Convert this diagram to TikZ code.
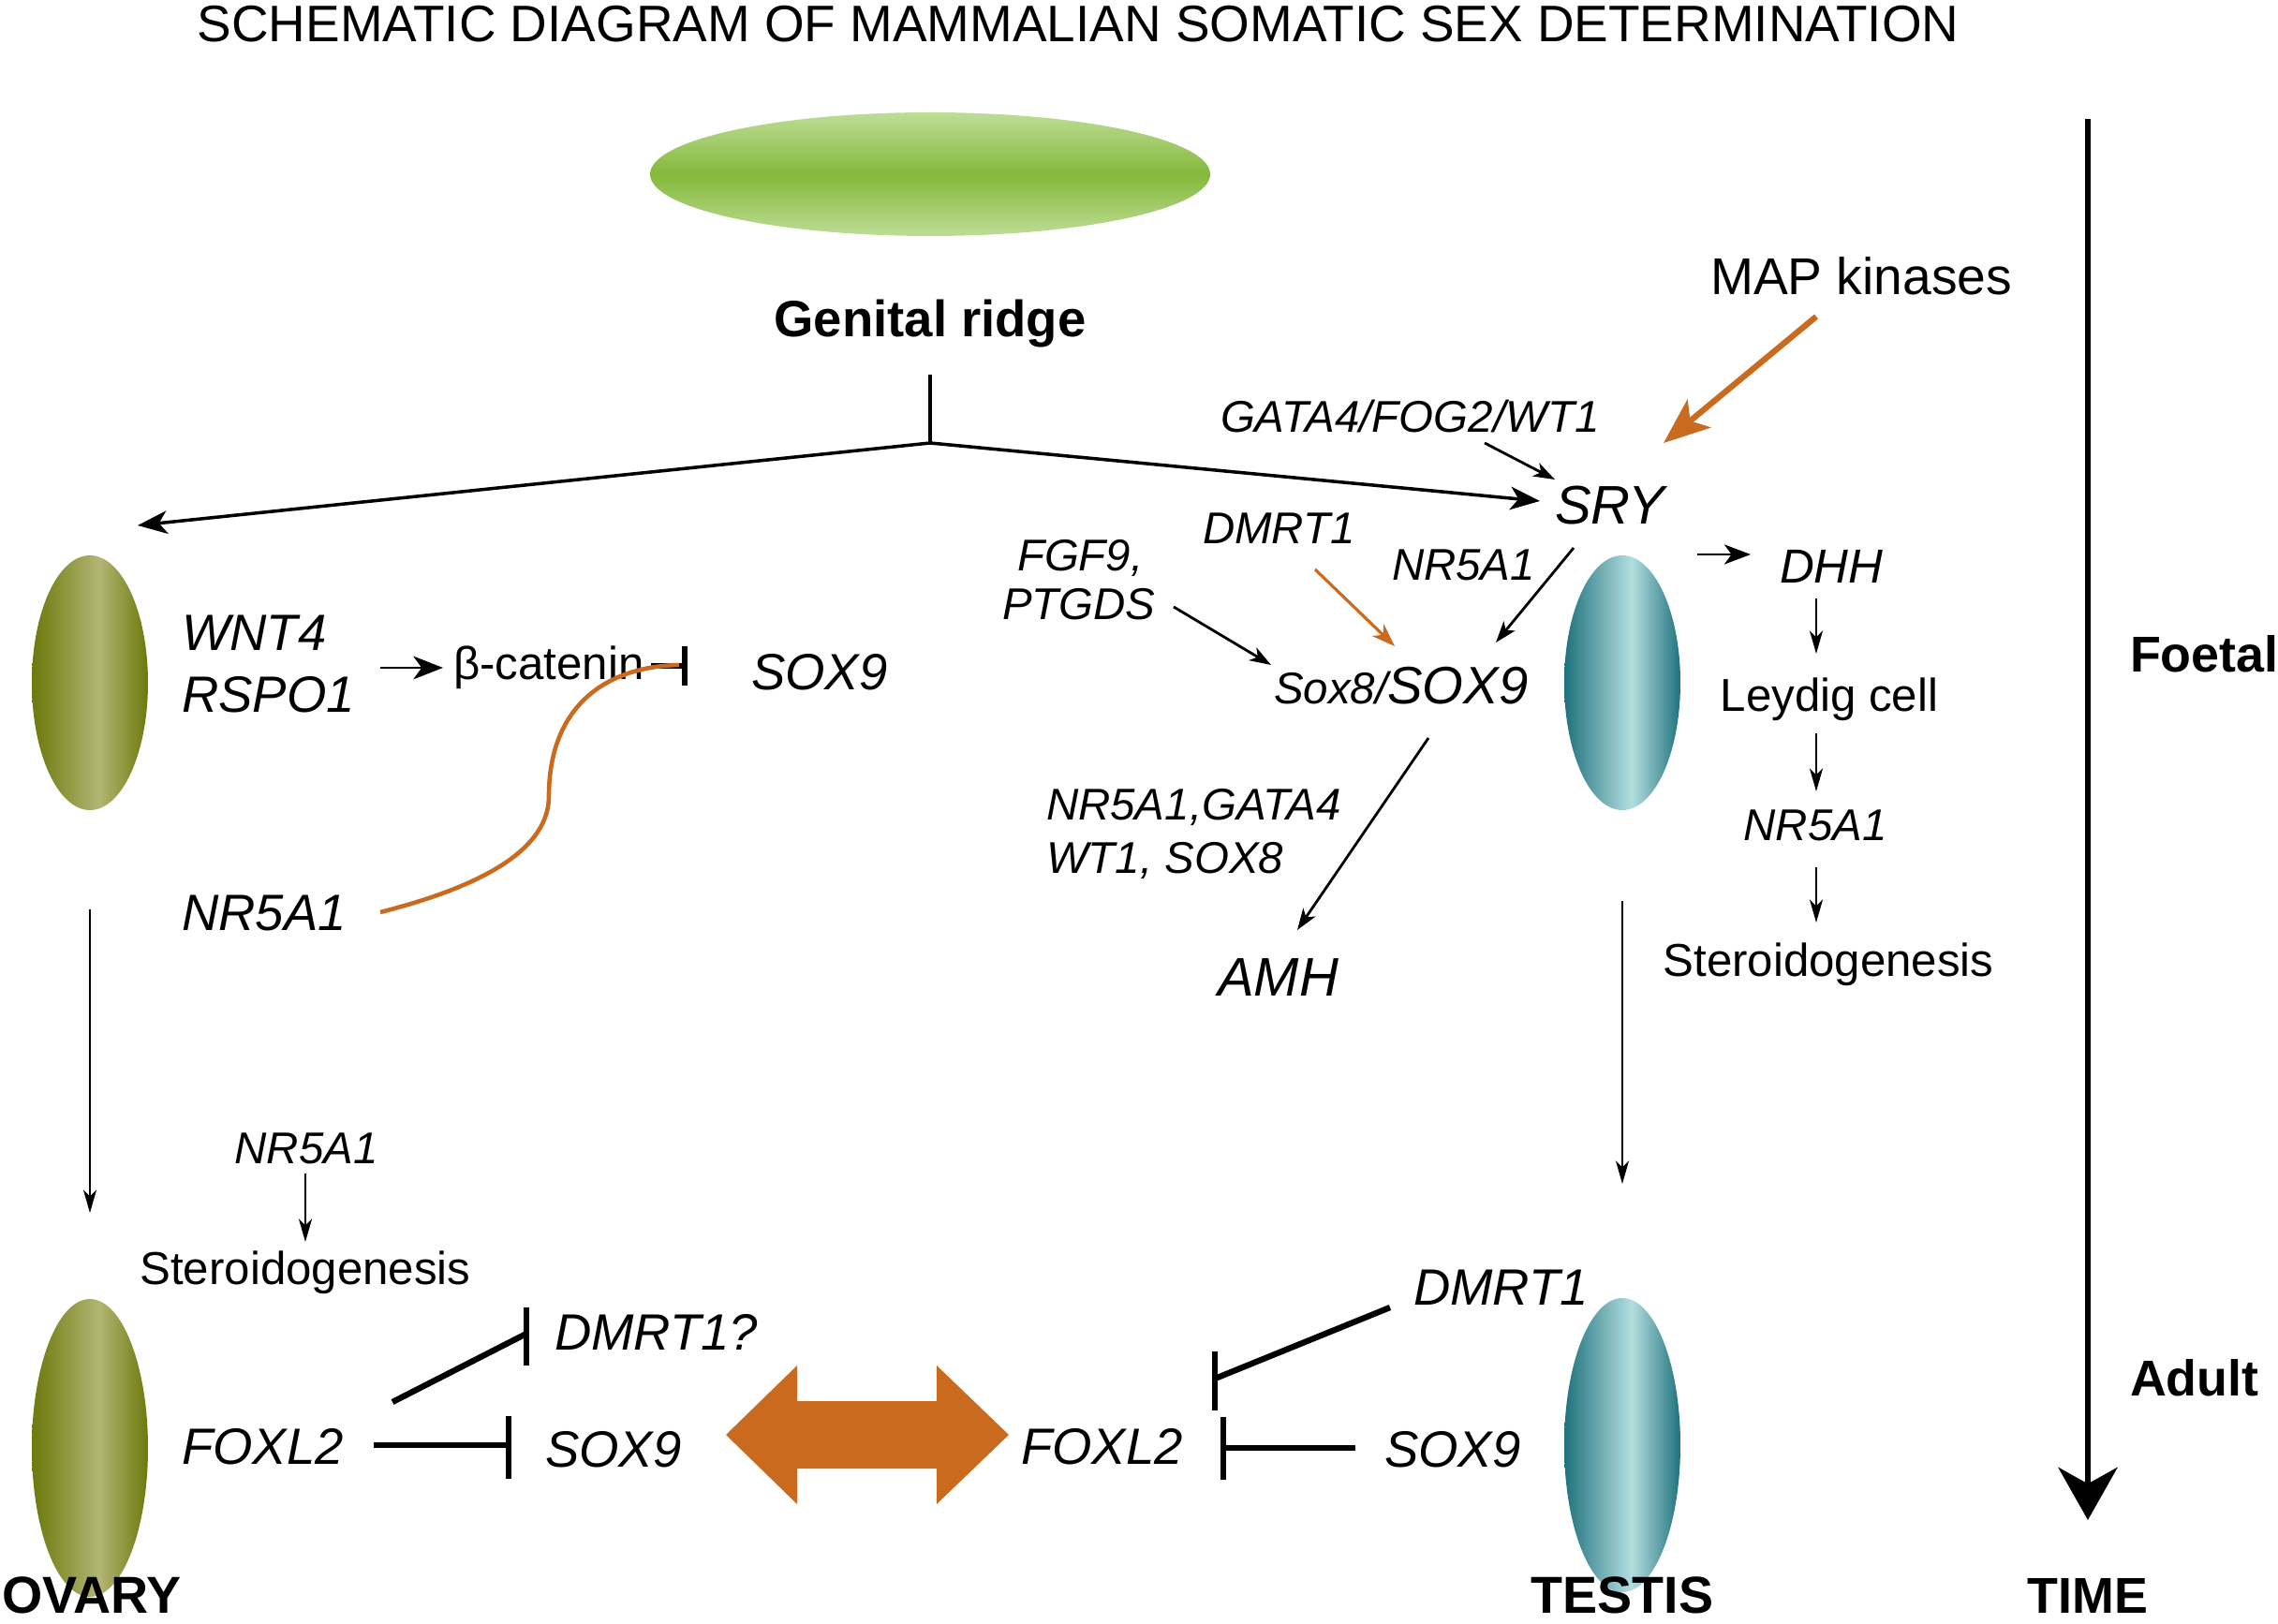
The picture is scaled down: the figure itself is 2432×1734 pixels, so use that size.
\documentclass[tikz,border=0pt]{standalone}
\usepackage{fontspec}
\setmainfont{Liberation Sans}
\usetikzlibrary{arrows.meta}
\definecolor{orng}{HTML}{C96A1E}
\definecolor{grnD}{HTML}{84B83A}
\definecolor{grnL}{HTML}{BEDD96}
\definecolor{oliveD}{HTML}{6B790C}
\definecolor{oliveL}{HTML}{B3B573}
\definecolor{tealD}{HTML}{1F727D}
\definecolor{tealL}{HTML}{B3DEE0}
\begin{document}
\begin{tikzpicture}[x=0.01cm,y=-0.01cm,
  every node/.style={inner sep=0pt, outer sep=0pt},
  reg/.style={font=\fontsize{14}{16}\selectfont},
  gene/.style={font=\fontsize{15.5}{18}\selectfont\itshape},
  sgene/.style={font=\fontsize{13.5}{16}\selectfont\itshape},
  lab/.style={font=\fontsize{15.8}{18}\selectfont\bfseries},
  act/.style={line width=0.8pt, -{Stealth[length=6.5pt,width=4.5pt,inset=1.8pt]}},
  actdown/.style={line width=0.8pt, -{Stealth[length=7pt,width=4pt,inset=2pt]}},
  actbig/.style={line width=1pt, -{Stealth[length=9pt,width=7pt,inset=2.5pt]}},
  inhline/.style={line width=1.8pt},
  inhbar/.style={line width=1.6pt},
]
\useasboundingbox (0,0) rectangle (2432,1734);

% title
\node[font=\fontsize{15.6}{18}\selectfont] (title) at (1151,26) {SCHEMATIC DIAGRAM OF MAMMALIAN SOMATIC SEX DETERMINATION};

% genital ridge ellipse
\begin{scope}
\clip (993,186) ellipse [x radius=299, y radius=66];
\shade[top color=grnL, bottom color=grnL, middle color=grnD] (694,120) rectangle (1292,252);
\end{scope}
\node[font=\fontsize{15.5}{18}\selectfont\bfseries, anchor=base] (gr) at (993,360) {Genital ridge};

% ovary ellipses
\begin{scope}
\clip (96,729) ellipse [x radius=62, y radius=136];
\shade[left color=oliveD, right color=oliveL] (34,593) rectangle (106,865);
\shade[left color=oliveL, right color=oliveD] (106,593) rectangle (158,865);
\end{scope}
\begin{scope}
\clip (96,1546) ellipse [x radius=62, y radius=159];
\shade[left color=oliveD, right color=oliveL] (34,1387) rectangle (106,1705);
\shade[left color=oliveL, right color=oliveD] (106,1387) rectangle (158,1705);
\end{scope}
% testis ellipses
\begin{scope}
\clip (1732,729) ellipse [x radius=62, y radius=136];
\shade[left color=tealD, right color=tealL] (1670,593) rectangle (1742,865);
\shade[left color=tealL, right color=tealD] (1742,593) rectangle (1794,865);
\end{scope}
\begin{scope}
\clip (1732,1543) ellipse [x radius=62, y radius=157];
\shade[left color=tealD, right color=tealL] (1670,1386) rectangle (1742,1700);
\shade[left color=tealL, right color=tealD] (1742,1386) rectangle (1794,1700);
\end{scope}

% labels bottom
\node[lab, anchor=base] (ovary) at (98,1722) {OVARY};
\node[lab, anchor=base] (testis) at (1732,1722) {TESTIS};
\node[font=\fontsize{15.3}{18}\selectfont\bfseries, anchor=base] (time) at (2229,1722) {TIME};
\node[font=\fontsize{15.3}{18}\selectfont\bfseries, anchor=base west] (foetal) at (2274,718) {Foetal};
\node[font=\fontsize{15.3}{18}\selectfont\bfseries, anchor=base west] (adult) at (2274,1490) {Adult};

% left foetal texts
\node[gene, anchor=base west] (wnt) at (194,695) {WNT4};
\node[gene, anchor=base west] (rspo) at (194,761) {RSPO1};
\node[reg, anchor=base west] (bcat) at (484,726) {β-catenin};
\node[gene, anchor=base west] (sox9a) at (802,737) {SOX9};
\node[gene, anchor=base west] (nr5l) at (194,994) {NR5A1};
\node[sgene, anchor=base] (nr5lb) at (327,1242) {NR5A1};
\node[reg, anchor=base] (sterl) at (326,1371) {Steroidogenesis};

% left adult texts
\node[gene, anchor=base west] (dmrtq) at (592,1441) {DMRT1?};
\node[gene, anchor=base west] (foxl) at (194,1563) {FOXL2};
\node[gene, anchor=base west] (sox9b) at (582,1566) {SOX9};
% right adult texts
\node[gene, anchor=base west] (foxr) at (1090,1563) {FOXL2};
\node[gene, anchor=base west] (dmrtr) at (1509,1393) {DMRT1};
\node[gene, anchor=base west] (sox9c) at (1478,1566) {SOX9};

% right foetal texts
\node[font=\fontsize{15.7}{18}\selectfont, anchor=base west] (map) at (1826,315) {MAP kinases};
\node[sgene, anchor=base west] (gata) at (1303,462) {GATA4/FOG2/WT1};
\node[font=\fontsize{16.5}{20}\selectfont\itshape, anchor=base west] (sry) at (1660,560) {SRY};
\node[sgene, anchor=base west] (nr5s) at (1486,620) {NR5A1};
\node[sgene, anchor=base west] (dmrtt) at (1284,581) {DMRT1};
\node[sgene, anchor=base west] (fgf) at (1086,610) {FGF9,};
\node[sgene, anchor=base west] (ptgds) at (1070,662) {PTGDS};
\node[anchor=base west] (sox8) at (1360,752) {\fontsize{13.5}{16}\selectfont\itshape Sox8/\fontsize{16}{18}\selectfont SOX9};
\node[sgene, anchor=base west] (nrg) at (1117,876) {NR5A1,GATA4};
\node[sgene, anchor=base west] (wts) at (1117,933) {WT1, SOX8};
\node[font=\fontsize{16.5}{18}\selectfont\itshape, anchor=base west] (amh) at (1300,1064) {AMH};
\node[font=\fontsize{14.5}{18}\selectfont\itshape, anchor=base west] (dhh) at (1900,623) {DHH};
\node[reg, anchor=base] (leydig) at (1953,760) {Leydig cell};
\node[sgene, anchor=base] (nr5r) at (1938,898) {NR5A1};
\node[reg, anchor=base] (sterr) at (1952,1043) {Steroidogenesis};

% coordinates
\coordinate (grtop) at (993,400);
\coordinate (grfork) at (993,473);
\coordinate (ovtip) at (147,561);
\coordinate (srytip) at (1644,535);
\coordinate (w1) at (406,713);
\coordinate (w2) at (473,713);
\coordinate (bc1) at (695,711);
\coordinate (bcbar) at (731,711);
\coordinate (nrc1) at (406,974);
\coordinate (nrc2) at (725,710);
\coordinate (ov1) at (96,971);
\coordinate (ov2) at (96,1295);
\coordinate (ns1) at (326,1253);
\coordinate (ns2) at (326,1326);
\coordinate (fd1) at (419,1497);
\coordinate (fd2) at (562,1424);
\coordinate (fs1) at (399,1543);
\coordinate (fs2) at (543,1543);
\coordinate (dr1) at (1484,1396);
\coordinate (dr2) at (1297,1472);
\coordinate (sr1) at (1447,1546);
\coordinate (sr2) at (1306,1546);
\coordinate (te1) at (1732,962);
\coordinate (te2) at (1732,1264);
\coordinate (ga1) at (1585,473);
\coordinate (ga2) at (1660,512);
\coordinate (mp1) at (1939,338);
\coordinate (mp2) at (1776,473);
\coordinate (ss1) at (1680,585);
\coordinate (ss2) at (1597,686);
\coordinate (dm1) at (1404,608);
\coordinate (dm2) at (1489,690);
\coordinate (fg1) at (1253,648);
\coordinate (fg2) at (1357,710);
\coordinate (am1) at (1525,788);
\coordinate (am2) at (1385,993);
\coordinate (dh1) at (1812,592);
\coordinate (dh2) at (1869,592);
\coordinate (ly1) at (1939,639);
\coordinate (ly2) at (1939,698);
\coordinate (nr1) at (1939,783);
\coordinate (nr2) at (1939,845);
\coordinate (st1) at (1939,926);
\coordinate (st2) at (1939,985);
\coordinate (t1) at (2229,127);
\coordinate (t2) at (2229,1623);

% genital ridge branching
\draw[line width=1.3pt] (grtop) -- (grfork);
\draw[actbig] (grfork) -- (ovtip);
\draw[actbig] (grfork) -- (srytip);

% ovary foetal
\draw[act, -{Stealth[length=9pt,width=7pt,inset=2.5pt]}] (w1) -- (w2);
\draw[inhline] (bc1) -- (bcbar);
\draw[inhbar] ([yshift=0.21cm]bcbar) -- ([yshift=-0.21cm]bcbar);
\draw[orng, line width=1.3pt] (nrc1) .. controls (520,945) and (586,905) .. (586,850)
  .. controls (586,760) and (640,712) .. (nrc2);
\draw[actdown] (ov1) -- (ov2);
\draw[actdown] (ns1) -- (ns2);

% ovary adult
\draw[inhline] (fd1) -- (fd2);
\draw[inhbar] ([yshift=0.28cm]fd2) -- ([yshift=-0.34cm]fd2);
\draw[inhline] (fs1) -- (fs2);
\draw[inhbar] ([yshift=0.31cm]fs2) -- ([yshift=-0.36cm]fs2);

% double arrow
\fill[orng] (775,1532) -- (851,1458) -- (851,1496) -- (1000,1496) -- (1000,1458)
  -- (1077,1532) -- (1000,1606) -- (1000,1568) -- (851,1568) -- (851,1606) -- cycle;

% testis adult
\draw[inhline] (dr1) -- (dr2);
\draw[inhbar] ([yshift=0.29cm]dr2) -- ([yshift=-0.34cm]dr2);
\draw[inhline] (sr1) -- (sr2);
\draw[inhbar] ([yshift=0.33cm]sr2) -- ([yshift=-0.34cm]sr2);

% testis foetal
\draw[actdown] (te1) -- (te2);
\draw[act] (ga1) -- (ga2);
\draw[orng, line width=1.8pt, -{Stealth[length=14pt,width=11pt,inset=3.5pt]}] (mp1) -- (mp2);
\draw[act] (ss1) -- (ss2);
\draw[orng, line width=0.9pt, -{Stealth[length=7pt,width=5pt,inset=2pt]}] (dm1) -- (dm2);
\draw[act] (fg1) -- (fg2);
\draw[act] (am1) -- (am2);
\draw[act, -{Stealth[length=8pt,width=6pt,inset=2.2pt]}] (dh1) -- (dh2);
\draw[actdown] (ly1) -- (ly2);
\draw[actdown] (nr1) -- (nr2);
\draw[actdown] (st1) -- (st2);

% time arrow
\draw[line width=1.6pt, -{Stealth[length=16pt,width=18pt,inset=5pt]}] (t1) -- (t2);
\end{tikzpicture}
\end{document}
